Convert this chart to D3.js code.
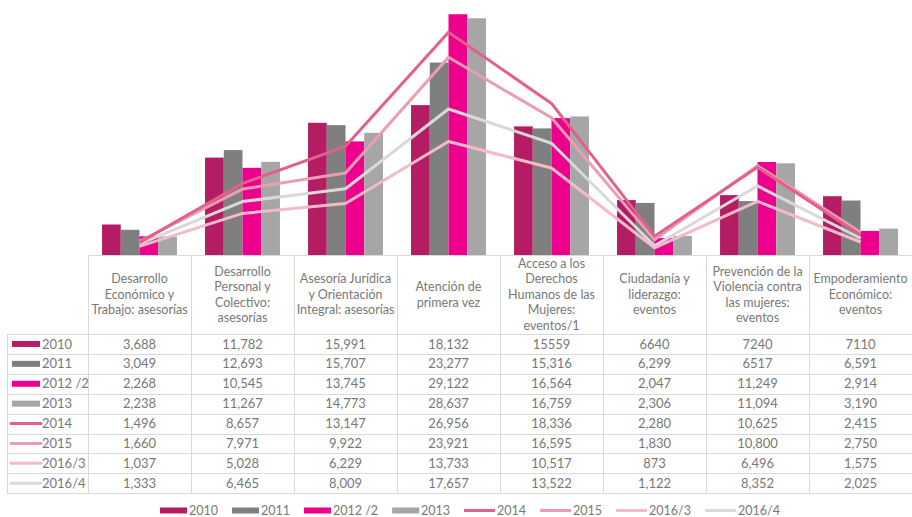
<!DOCTYPE html>
<html>
<head>
<meta charset="utf-8">
<script src="https://cdn.jsdelivr.net/npm/d3@7"></script>
<style>
  html, body { margin: 0; padding: 0; background: #fff; }
  svg { display: block; font-family: "Lato", "Open Sans", sans-serif; }
</style>
</head>
<body>
<svg id="chart" width="912" height="517"></svg>
<script>
// Program categories (header text, line breaks marked with \n)
const categories = [
  "Desarrollo\nEconómico y\nTrabajo: asesorías",
  "Desarrollo\nPersonal y\nColectivo:\nasesorías",
  "Asesoría Jurídica\ny Orientación\nIntegral: asesorías",
  "Atención de\nprimera vez",
  "Acceso a los\nDerechos\nHumanos de las\nMujeres:\neventos/1",
  "Ciudadanía y\nliderazgo:\neventos",
  "Prevención de la\nViolencia contra\nlas mujeres:\neventos",
  "Empoderamiento\nEconómico:\neventos"
];

// Series names
const barSeries = ["2010", "2011", "2012 /2", "2013"];
const lineSeries = ["2014", "2015", "2016/3", "2016/4"];

// Values per series, one per category
const v2010  = [3688, 11782, 15991, 18132, 15559, 6640, 7240, 7110];
const v2011  = [3049, 12693, 15707, 23277, 15316, 6299, 6517, 6591];
const v2012  = [2268, 10545, 13745, 29122, 16564, 2047, 11249, 2914];
const v2013  = [2238, 11267, 14773, 28637, 16759, 2306, 11094, 3190];
const v2014  = [1496, 8657, 13147, 26956, 18336, 2280, 10625, 2415];
const v2015  = [1660, 7971, 9922, 23921, 16595, 1830, 10800, 2750];
const v2016a = [1037, 5028, 6229, 13733, 10517, 873, 6496, 1575];
const v2016b = [1333, 6465, 8009, 17657, 13522, 1122, 8352, 2025];

// Table cells printed without a thousands separator: [row, column]
const plainCells = [[0, 4], [0, 5], [0, 6], [0, 7], [1, 6]];

const barColors  = ["#b41d63", "#7f7f7f", "#ec008c", "#a6a6a6"];
const lineColors = ["#e2608c", "#ec9db2", "#f3bbc9", "#d9d9d9"];

const barValues  = [v2010, v2011, v2012, v2013];
const lineValues = [v2014, v2015, v2016a, v2016b];
const allSeries  = barSeries.concat(lineSeries);
const allValues  = barValues.concat(lineValues);
const allColors  = barColors.concat(lineColors);

const svg = d3.select("#chart");
const gridColor = "#d9d9d9";
const textColor = "#787878";

// Layout
const plotLeft = 88, plotRight = 912, baseY = 255;
const tableLeft = 7, headerBottom = 334, rowH = 19.9;

const x0 = d3.scaleBand().domain(d3.range(categories.length)).range([plotLeft, plotRight]);
const x1 = d3.scaleBand().domain(barSeries).range([0, x0.bandwidth()]).paddingInner(0).paddingOuter(0.75);
const y = d3.scaleLinear().domain([0, 30000]).range([baseY, 7]);

// Bars
const barG = svg.append("g");
barSeries.forEach((s, si) => {
  barG.selectAll(null)
    .data(barValues[si])
    .join("rect")
    .attr("x", (d, i) => x0(i) + x1(s))
    .attr("y", d => y(d))
    .attr("width", x1.bandwidth())
    .attr("height", d => y(0) - y(d))
    .attr("fill", barColors[si]);
});

// Lines (lightest drawn first)
const line = d3.line()
  .x((d, i) => x0(i) + x0.bandwidth() / 2)
  .y(d => y(d));
[3, 2, 1, 0].forEach(si => {
  svg.append("path")
    .datum(lineValues[si])
    .attr("d", line)
    .attr("fill", "none")
    .attr("stroke", lineColors[si])
    .attr("stroke-width", 3)
    .attr("stroke-linejoin", "round");
});

// Data table grid
const tableBottom = headerBottom + rowH * allSeries.length;
const grid = svg.append("g").attr("stroke", gridColor).attr("stroke-width", 1).attr("shape-rendering", "crispEdges");
grid.append("line").attr("x1", plotLeft).attr("x2", plotRight).attr("y1", baseY).attr("y2", baseY);
d3.range(allSeries.length + 1).forEach(r => {
  const yy = Math.round(headerBottom + r * rowH) + 0.5;
  grid.append("line").attr("x1", tableLeft).attr("x2", plotRight).attr("y1", yy).attr("y2", yy);
});
grid.append("line").attr("x1", tableLeft + 0.5).attr("x2", tableLeft + 0.5).attr("y1", headerBottom).attr("y2", tableBottom);
d3.range(categories.length).forEach(i => {
  const xx = Math.round(x0(i)) + 0.5;
  grid.append("line").attr("x1", xx).attr("x2", xx).attr("y1", baseY).attr("y2", tableBottom);
});

// Header labels
const headerMid = (baseY + headerBottom) / 2;
const lh = 15.5;
categories.forEach((c, i) => {
  const lines = c.split("\n");
  const t = svg.append("text")
    .attr("x", x0(i) + x0.bandwidth() / 2)
    .attr("text-anchor", "middle")
    .attr("font-size", 12.5)
    .attr("fill", textColor);
  lines.forEach((l, k) => {
    t.append("tspan")
      .attr("x", x0(i) + x0.bandwidth() / 2)
      .attr("y", headerMid + (k - (lines.length - 1) / 2) * lh)
      .attr("dy", "0.35em")
      .text(l);
  });
});

// Table rows
const fmtComma = d3.format(",");
const isPlain = (r, c) => plainCells.some(p => p[0] === r && p[1] === c);
allSeries.forEach((s, r) => {
  const cy = headerBottom + (r + 0.5) * rowH;
  if (r < barSeries.length) {
    svg.append("rect").attr("x", 12).attr("y", cy - 3).attr("width", 28).attr("height", 6).attr("fill", allColors[r]);
  } else {
    svg.append("line").attr("x1", 11).attr("x2", 41).attr("y1", cy).attr("y2", cy)
      .attr("stroke", allColors[r]).attr("stroke-width", 3).attr("stroke-linecap", "round");
  }
  svg.append("text").attr("x", 42).attr("y", cy).attr("dy", "0.35em")
    .attr("font-size", 13).attr("fill", textColor).text(s);
  allValues[r].forEach((v, c) => {
    svg.append("text")
      .attr("x", x0(c) + x0.bandwidth() / 2)
      .attr("y", cy).attr("dy", "0.35em")
      .attr("text-anchor", "middle")
      .attr("font-size", 13)
      .attr("fill", textColor)
      .text(isPlain(r, c) ? String(v) : fmtComma(v));
  });
});

// Bottom legend
const legY = 510.5;
let lx = 160;
allSeries.forEach((s, i) => {
  const isBar = i < barSeries.length;
  const sw = isBar ? 27 : 31;
  if (isBar) {
    svg.append("rect").attr("x", lx).attr("y", legY - 3).attr("width", sw).attr("height", 6).attr("fill", allColors[i]);
  } else {
    svg.append("line").attr("x1", lx).attr("x2", lx + sw).attr("y1", legY).attr("y2", legY)
      .attr("stroke", allColors[i]).attr("stroke-width", 3);
  }
  const t = svg.append("text").attr("x", lx + sw + 2).attr("y", legY).attr("dy", "0.35em")
    .attr("font-size", 12.5).attr("fill", textColor).text(s);
  lx = lx + sw + 2 + t.node().getComputedTextLength() + 14;
});
</script>
</body>
</html>
